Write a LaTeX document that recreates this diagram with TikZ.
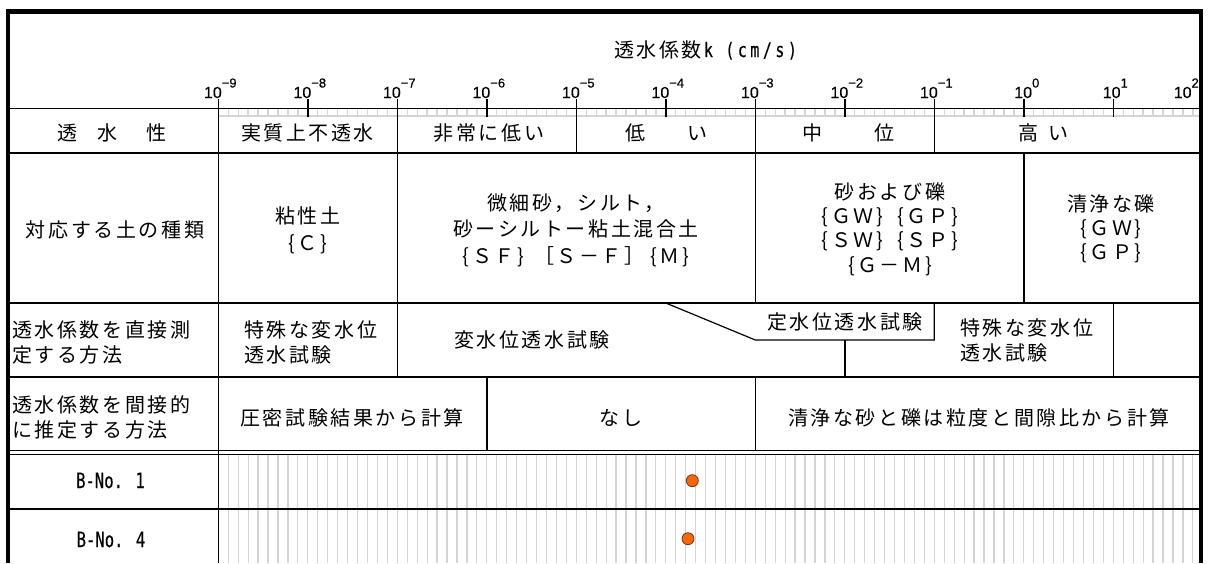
\documentclass[tikz,border=0pt]{standalone}
\usepackage{fontspec}
\newfontfamily\jpf[LetterSpace=13]{Noto Sans CJK JP}
\newfontfamily\monof[FakeStretch=0.74,FakeBold=0.4]{DejaVu Sans Mono}
\newfontfamily\monot[FakeStretch=0.74,LetterSpace=18,FakeBold=0.4]{DejaVu Sans Mono}
\newfontfamily\arialf[FakeBold=0.4]{Liberation Sans}
\definecolor{gridgray}{RGB}{212,212,212}
\definecolor{dotorange}{RGB}{255,102,0}
\definecolor{dotedge}{RGB}{90,60,40}
\newcommand\decl[1]{10\raisebox{10.5pt}{\fontsize{13}{14}\selectfont #1}}
\tikzset{
  tline/.style={line width=1.6pt, black},
  gline/.style={line width=1.3pt, gridgray},
  jp/.style={font=\fontsize{20}{#1}\selectfont\jpf, inner sep=0pt},
  jp/.default=25,
  axl/.style={font=\fontsize{16}{17}\selectfont\arialf, inner sep=0pt, anchor=base},
  mono/.style={font=\fontsize{21}{24}\selectfont\monof, inner sep=0pt},
  dot/.style={circle, fill=dotorange, draw=dotedge, line width=0.8pt, minimum size=12pt, inner sep=0pt}
}
\begin{document}
\begin{tikzpicture}[x=1pt,y=-1pt]
\useasboundingbox (0,0) rectangle (1215,563);
% grey scale ladder under the axis
\foreach \k in {0,...,99} \draw[gline] ({218.3+\k*9.9444},108.3) -- ({218.3+\k*9.9444},116);
\draw[gline] (218.3,116) -- (1201,116);
% grey grid in the borehole rows
\foreach \k in {1,...,98} \draw[gline, line width=1.2pt] ({218.3+\k*9.9444},455) -- ({218.3+\k*9.9444},563);

% horizontal rules
\draw[tline] (8,108.3) -- (1201,108.3);
\draw[tline] (8,153) -- (1201,153);
\draw[tline] (8,303) -- (1201,303);
\draw[tline] (8,377) -- (1201,377);
\draw[tline, line width=1.2pt] (8,450.5) -- (1201,450.5);
\draw[tline] (8,454.5) -- (1201,454.5);
\draw[tline] (8,509) -- (1201,509);

% decade ticks
\foreach \d in {1,3,5,7,9,10} \draw[tline] ({218.3+\d*89.5},99) -- ({218.3+\d*89.5},117);
% long verticals
\draw[tline] (218.3,99) -- (218.3,563);
\draw[tline] (397.3,99) -- (397.3,377);
\draw[tline] (576.3,99) -- (576.3,153);
\draw[tline] (755.3,99) -- (755.3,303);
\draw[tline] (934.3,99) -- (934.3,153);
\draw[tline] (1023.8,153) -- (1023.8,303);
\draw[tline] (486.8,377) -- (486.8,450.5);
\draw[tline] (755.3,377) -- (755.3,450.5);
% constant-head test box
\draw[tline, line width=1.2pt] (665.8,303) -- (755.3,340) -- (934.3,340) -- (934.3,303);
\draw[tline] (844.8,340) -- (844.8,377);
\draw[tline] (1113.3,303) -- (1113.3,377);

% axis labels
\node[axl] (am9) at (220.3,98) {\decl{−9}};
\node[axl] (am8) at (309.8,98) {\decl{−8}};
\node[axl] (am7) at (399.3,98) {\decl{−7}};
\node[axl] (am6) at (488.8,98) {\decl{−6}};
\node[axl] (am5) at (578.3,98) {\decl{−5}};
\node[axl] (am4) at (667.8,98) {\decl{−4}};
\node[axl] (am3) at (757.3,98) {\decl{−3}};
\node[axl] (am2) at (846.8,98) {\decl{−2}};
\node[axl] (am1) at (936.3,98) {\decl{−1}};
\node[axl] (a0) at (1026.8,98) {\decl{0}};
\node[axl] (a1) at (1115.3,98) {\decl{1}};
\node[axl, anchor=base east] (a2) at (1199,98) {\decl{2}};

% title
\node[jp, anchor=base west] (title) at (614,57) {透水係数\hspace{2pt}{\monot k (cm/s)}};

% row 1
\node[jp] (r1h) at (112,133) {透\hspace{20pt}水\hspace{29pt}性};
\node[jp] (r1a) at (307.5,133) {実質上不透水};
\node[jp] (r1b) at (489,133) {非常に低い};
\node[jp] (r1c) at (666,133) {低\hspace{42pt}い};
\node[jp] (r1d) at (848,133) {中\hspace{52pt}位};
\node[jp] (r1e) at (1043,133) {高\hspace{10pt}い};

% row 2
\node[jp] (r2h) at (115,230) {対応する土の種類};
\node[jp=27, align=center] (r2a) at (308,230) {粘性土\\\{Ｃ\}};
\node[jp=26.5, align=center] (r2b) at (576,230) {微細砂，シルト，\\砂ーシルトー粘土混合土\\\{ＳＦ\}\hspace{10pt}［Ｓ－Ｆ］\hspace{6pt}\{Ｍ\}};
\node[jp=24.3, align=center] (r2c) at (890,229) {砂および礫\\\{ＧＷ\}\hspace{14pt}\{ＧＰ\}\\\{ＳＷ\}\hspace{14pt}\{ＳＰ\}\\\{Ｇ－Ｍ\}};
\node[jp=24, align=center] (r2d) at (1111,228.5) {清浄な礫\\\{ＧＷ\}\\\{ＧＰ\}};

% row 3
\node[jp, align=left, anchor=west] (r3h) at (12,342) {透水係数を直接測\\定する方法};
\node[jp, align=left, anchor=west] (r3a) at (244,342) {特殊な変水位\\透水試験};
\node[jp] (r3b) at (532,340) {変水位透水試験};
\node[jp] (r3c) at (845,321.5) {定水位透水試験};
\node[jp, align=left, anchor=west] (r3d) at (960,340.5) {特殊な変水位\\透水試験};

% row 4
\node[jp, align=left, anchor=west] (r4h) at (12,417.5) {透水係数を間接的\\に推定する方法};
\node[jp] (r4a) at (352,417.5) {圧密試験結果から計算};
\node[jp] (r4b) at (621,417.5) {なし};
\node[jp] (r4c) at (979,417.5) {清浄な砂と礫は粒度と間隙比から計算};

% borehole rows
\node[mono] (b1) at (110.5,480.5) {B-No. 1};
\node[mono] (b4) at (111,539.5) {B-No. 4};
\node[dot] (p1) at (692.3,480.7) {};
\node[dot] (p4) at (688,538.7) {};

% outer border
\draw[line width=4.5pt, line join=miter] (8,563) -- (8,11.3) -- (1201,11.3) -- (1201,563);
\end{tikzpicture}
\end{document}
